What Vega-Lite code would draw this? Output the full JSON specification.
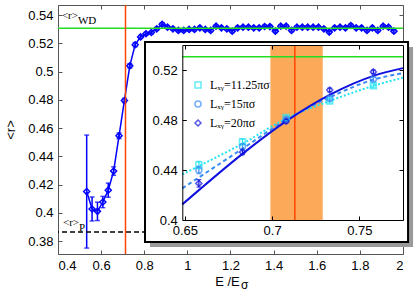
{
  "$schema": "https://vega.github.io/schema/vega-lite/v6.json",
  "width": 345,
  "height": 249,
  "autosize": {"type": "none"},
  "padding": {"left": 58, "top": 5, "right": 12, "bottom": 37},
  "background": "white",
  "config": {
    "view": {"stroke": "#555", "strokeWidth": 1},
    "axis": {"labelFont": "Liberation Sans", "labelFontSize": 13, "labelColor": "black", "titleFont": "Liberation Sans", "titleFontSize": 13, "titleFontWeight": "normal", "titleColor": "black", "grid": false}
  },
  "datasets": {
    "one": [{"k": 1}],
    "main": [
      {"E": 0.533, "r": 0.415, "err": 0.04},
      {"E": 0.558, "r": 0.4027, "err": 0.0085},
      {"E": 0.583, "r": 0.401, "err": 0.0065},
      {"E": 0.608, "r": 0.4076, "err": 0.004},
      {"E": 0.633, "r": 0.416, "err": 0.005},
      {"E": 0.658, "r": 0.4295, "err": 0.003},
      {"E": 0.683, "r": 0.4545, "err": 0.002},
      {"E": 0.708, "r": 0.4795, "err": 0.0015},
      {"E": 0.733, "r": 0.504, "err": 0.0015},
      {"E": 0.758, "r": 0.519, "err": 0.0015},
      {"E": 0.783, "r": 0.5245, "err": 0.001},
      {"E": 0.808, "r": 0.5267, "err": 0.001},
      {"E": 0.833, "r": 0.5276, "err": 0.001},
      {"E": 0.858, "r": 0.5302, "err": 0.001},
      {"E": 0.883, "r": 0.5335, "err": 0.001},
      {"E": 0.908, "r": 0.5314, "err": 0.001},
      {"E": 0.933, "r": 0.5302, "err": 0.001},
      {"E": 0.958, "r": 0.5291, "err": 0.001},
      {"E": 0.983, "r": 0.5291, "err": 0.001},
      {"E": 1.008, "r": 0.5298, "err": 0.001},
      {"E": 1.033, "r": 0.5298, "err": 0.001},
      {"E": 1.058, "r": 0.5309, "err": 0.001},
      {"E": 1.083, "r": 0.5298, "err": 0.001},
      {"E": 1.108, "r": 0.5291, "err": 0.001},
      {"E": 1.133, "r": 0.5321, "err": 0.001},
      {"E": 1.158, "r": 0.5309, "err": 0.001},
      {"E": 1.183, "r": 0.5302, "err": 0.001},
      {"E": 1.208, "r": 0.5286, "err": 0.001},
      {"E": 1.233, "r": 0.5309, "err": 0.001},
      {"E": 1.258, "r": 0.5314, "err": 0.001},
      {"E": 1.283, "r": 0.5314, "err": 0.001},
      {"E": 1.308, "r": 0.5309, "err": 0.001},
      {"E": 1.333, "r": 0.5309, "err": 0.001},
      {"E": 1.358, "r": 0.5319, "err": 0.001},
      {"E": 1.383, "r": 0.5318, "err": 0.001},
      {"E": 1.408, "r": 0.5286, "err": 0.001},
      {"E": 1.433, "r": 0.5321, "err": 0.001},
      {"E": 1.458, "r": 0.5321, "err": 0.001},
      {"E": 1.483, "r": 0.5291, "err": 0.001},
      {"E": 1.508, "r": 0.5314, "err": 0.001},
      {"E": 1.533, "r": 0.5314, "err": 0.001},
      {"E": 1.558, "r": 0.5314, "err": 0.001},
      {"E": 1.583, "r": 0.5314, "err": 0.001},
      {"E": 1.608, "r": 0.5314, "err": 0.001},
      {"E": 1.633, "r": 0.5302, "err": 0.001},
      {"E": 1.658, "r": 0.5279, "err": 0.001},
      {"E": 1.683, "r": 0.5309, "err": 0.001},
      {"E": 1.708, "r": 0.5314, "err": 0.001},
      {"E": 1.733, "r": 0.5309, "err": 0.001},
      {"E": 1.758, "r": 0.5326, "err": 0.001},
      {"E": 1.783, "r": 0.5309, "err": 0.001},
      {"E": 1.808, "r": 0.5309, "err": 0.001},
      {"E": 1.833, "r": 0.5291, "err": 0.001},
      {"E": 1.858, "r": 0.5309, "err": 0.001},
      {"E": 1.883, "r": 0.5291, "err": 0.001},
      {"E": 1.908, "r": 0.5321, "err": 0.001},
      {"E": 1.933, "r": 0.5314, "err": 0.001},
      {"E": 1.958, "r": 0.5286, "err": 0.001}
    ],
    "inset": [
      {"E": 0.658, "r": 0.444, "err": 0.003, "L": "Lₓᵧ=11.25πσ"},
      {"E": 0.683, "r": 0.4627, "err": 0.002, "L": "Lₓᵧ=11.25πσ"},
      {"E": 0.708, "r": 0.482, "err": 0.0015, "L": "Lₓᵧ=11.25πσ"},
      {"E": 0.733, "r": 0.4952, "err": 0.0015, "L": "Lₓᵧ=11.25πσ"},
      {"E": 0.758, "r": 0.5075, "err": 0.0015, "L": "Lₓᵧ=11.25πσ"},
      {"E": 0.658, "r": 0.44, "err": 0.003, "L": "Lₓᵧ=15πσ"},
      {"E": 0.683, "r": 0.4587, "err": 0.002, "L": "Lₓᵧ=15πσ"},
      {"E": 0.708, "r": 0.4805, "err": 0.0015, "L": "Lₓᵧ=15πσ"},
      {"E": 0.733, "r": 0.4973, "err": 0.0015, "L": "Lₓᵧ=15πσ"},
      {"E": 0.758, "r": 0.5126, "err": 0.0015, "L": "Lₓᵧ=15πσ"},
      {"E": 0.658, "r": 0.4293, "err": 0.003, "L": "Lₓᵧ=20πσ"},
      {"E": 0.683, "r": 0.4543, "err": 0.002, "L": "Lₓᵧ=20πσ"},
      {"E": 0.708, "r": 0.479, "err": 0.0015, "L": "Lₓᵧ=20πσ"},
      {"E": 0.733, "r": 0.504, "err": 0.0015, "L": "Lₓᵧ=20πσ"},
      {"E": 0.758, "r": 0.5185, "err": 0.0015, "L": "Lₓᵧ=20πσ"}
    ],
    "fit11": [
      {"E": 0.6485, "r": 0.4365}, {"E": 0.6585, "r": 0.4435}, {"E": 0.6835, "r": 0.4615},
      {"E": 0.7085, "r": 0.4815}, {"E": 0.7335, "r": 0.4955}, {"E": 0.7585, "r": 0.5075}, {"E": 0.775, "r": 0.5139}
    ],
    "fit15": [
      {"E": 0.6485, "r": 0.4253}, {"E": 0.6585, "r": 0.4345}, {"E": 0.6835, "r": 0.4575},
      {"E": 0.7085, "r": 0.4805}, {"E": 0.7335, "r": 0.4985}, {"E": 0.7585, "r": 0.5125}, {"E": 0.775, "r": 0.5175}
    ],
    "fit20": [
      {"E": 0.6485, "r": 0.4125}, {"E": 0.6585, "r": 0.4245}, {"E": 0.6835, "r": 0.4535},
      {"E": 0.7085, "r": 0.4795}, {"E": 0.7335, "r": 0.5005}, {"E": 0.7585, "r": 0.5155}, {"E": 0.775, "r": 0.5215}
    ]
  },
  "resolve": {"scale": {"x": "independent", "y": "independent"}},
  "layer": [
    {
      "data": {"name": "main"},
      "encoding": {
        "x": {"field": "E", "type": "quantitative",
          "scale": {"domain": [0.4, 2.0], "nice": false, "zero": false},
          "axis": {"orient": "bottom", "values": [0.4, 0.6, 0.8, 1, 1.2, 1.4, 1.6, 1.8, 2], "format": "~g", "domain": false, "tickSize": -4, "tickColor": "#555", "labelPadding": 9, "title": "E /E", "titlePadding": 3, "titleX": 169}},
        "y": {"field": "r", "type": "quantitative",
          "scale": {"domain": [0.3708, 0.5471], "nice": false, "zero": false},
          "axis": {"orient": "left", "values": [0.38, 0.4, 0.42, 0.44, 0.46, 0.48, 0.5, 0.52, 0.54], "format": "~g", "domain": false, "tickSize": -4, "tickColor": "#555", "labelPadding": 9, "title": "<r>", "titlePadding": 10}}
      },
      "layer": [
        {"mark": {"type": "errorbar", "color": "#0000ff", "thickness": 1.5, "ticks": {"size": 5}},
         "encoding": {"yError": {"field": "err"}}},
        {"mark": {"type": "line", "color": "#0000ff", "strokeWidth": 1.5,
           "point": {"shape": "diamond", "filled": false, "size": 36, "strokeWidth": 1.5, "color": "#0000ff"}}}
      ]
    },
    {
      "data": {"name": "one"},
      "layer": [
        {"mark": {"type": "rule", "color": "#22dd22", "strokeWidth": 1.5},
         "encoding": {"y": {"datum": 0.5307,
           "scale": {"domain": [0.3708, 0.5471], "nice": false, "zero": false},
           "axis": {"orient": "right", "values": [0.38, 0.4, 0.42, 0.44, 0.46, 0.48, 0.5, 0.52, 0.54], "labels": false, "domain": false, "tickSize": -4, "tickColor": "#555", "title": null}}}},
        {"mark": {"type": "rule", "color": "black", "strokeWidth": 1.5, "strokeDash": [5, 3]},
         "encoding": {"y": {"datum": 0.3863}}},
        {"mark": {"type": "rule", "color": "#ff4500", "strokeWidth": 1.5},
         "encoding": {"x": {"datum": 0.713,
           "scale": {"domain": [0.4, 2.0], "nice": false, "zero": false},
           "axis": {"orient": "top", "values": [0.4, 0.6, 0.8, 1, 1.2, 1.4, 1.6, 1.8, 2], "labels": false, "domain": false, "tickSize": -4, "tickColor": "#555", "title": null}}}},
        {"mark": {"type": "text", "text": "<r>", "font": "Liberation Serif", "fontSize": 11, "align": "left", "baseline": "alphabetic", "color": "black"},
         "encoding": {"x": {"datum": 0.418}, "y": {"datum": 0.5372}}},
        {"mark": {"type": "text", "text": "WD", "font": "Liberation Serif", "fontSize": 11, "align": "left", "baseline": "alphabetic", "dx": 16, "dy": 5, "color": "black"},
         "encoding": {"x": {"datum": 0.418}, "y": {"datum": 0.5372}}},
        {"mark": {"type": "text", "text": "<r>", "font": "Liberation Serif", "fontSize": 11, "align": "left", "baseline": "alphabetic", "color": "black"},
         "encoding": {"x": {"datum": 0.423}, "y": {"datum": 0.3906}}},
        {"mark": {"type": "text", "text": "P", "font": "Liberation Serif", "fontSize": 11, "align": "left", "baseline": "alphabetic", "dx": 16, "dy": 5, "color": "black"},
         "encoding": {"x": {"datum": 0.423}, "y": {"datum": 0.3906}}},
        {"mark": {"type": "text", "text": "σ", "font": "Liberation Sans", "fontSize": 12, "align": "left", "baseline": "middle", "color": "black"},
         "encoding": {"x": {"datum": 1.249}, "y": {"datum": 0.3488}}},
        {"mark": {"type": "rect", "color": "#9a9a9a"},
         "encoding": {"x": {"datum": 0.8267}, "x2": {"datum": 2.0466}, "y": {"datum": 0.5173}, "y2": {"datum": 0.3758}}},
        {"mark": {"type": "rect", "fill": "white", "stroke": "black", "strokeWidth": 2},
         "encoding": {"x": {"datum": 0.8035}, "x2": {"datum": 2.0234}, "y": {"datum": 0.5209}, "y2": {"datum": 0.3793}}}
      ]
    },
    {
      "data": {"name": "one"},
      "layer": [
        {"mark": {"type": "rect", "color": "#fb9a3c", "opacity": 0.85},
         "encoding": {
           "x": {"datum": 0.699,
             "scale": {"domain": [0.6485, 0.775], "range": [124.3, 345], "nice": false, "zero": false},
             "axis": {"orient": "top", "offset": -40, "values": [0.65, 0.7, 0.75], "labels": false, "domain": true, "domainColor": "black", "tickSize": -4, "tickColor": "black", "title": null, "zindex": 1}},
           "x2": {"datum": 0.729},
           "y": {"datum": 0.4,
             "scale": {"domain": [0.4, 0.54], "range": [215, 40], "nice": false, "zero": false},
             "axis": {"orient": "right", "offset": 0, "values": [0.4, 0.44, 0.48, 0.52], "labels": false, "domain": true, "domainColor": "black", "tickSize": -4, "tickColor": "black", "title": null, "zindex": 1}},
           "y2": {"datum": 0.54}}},
        {"mark": {"type": "rule", "color": "#22dd22", "strokeWidth": 1.5},
         "encoding": {"x": {"datum": 0.6485}, "x2": {"datum": 0.775}, "y": {"datum": 0.5307}}},
        {"mark": {"type": "rule", "color": "#ff4500", "strokeWidth": 1.5},
         "encoding": {"x": {"datum": 0.713}, "y": {"datum": 0.4}, "y2": {"datum": 0.54}}}
      ]
    },
    {
      "encoding": {
        "x": {"field": "E", "type": "quantitative",
          "scale": {"domain": [0.6485, 0.775], "range": [124.3, 345], "nice": false, "zero": false},
          "axis": {"orient": "bottom", "offset": -34, "values": [0.65, 0.7, 0.75], "format": "~g", "domain": true, "domainColor": "black", "tickSize": -4, "tickColor": "black", "labelPadding": 8, "title": null, "zindex": 1}},
        "y": {"field": "r", "type": "quantitative",
          "scale": {"domain": [0.4, 0.54], "range": [215, 40], "nice": false, "zero": false},
          "axis": {"orient": "left", "offset": -124.3, "values": [0.4, 0.44, 0.48, 0.52], "format": "~g", "domain": true, "domainColor": "black", "tickSize": -4, "tickColor": "black", "labelPadding": 9, "title": null, "zindex": 1}}
      },
      "layer": [
        {"data": {"name": "fit11"}, "mark": {"type": "line", "color": "#22e5f2", "strokeWidth": 2, "strokeDash": [2, 2], "interpolate": "monotone"}},
        {"data": {"name": "fit15"}, "mark": {"type": "line", "color": "#3a8cf5", "strokeWidth": 2, "strokeDash": [4, 3], "interpolate": "monotone"}},
        {"data": {"name": "fit20"}, "mark": {"type": "line", "color": "#1010e0", "strokeWidth": 2, "interpolate": "monotone"}},
        {"data": {"name": "inset"}, "transform": [{"filter": {"field": "L", "equal": "Lₓᵧ=11.25πσ"}}],
         "mark": {"type": "errorbar", "thickness": 1.2, "color": "#22e5f2", "ticks": {"size": 5}},
         "encoding": {"yError": {"field": "err"}}},
        {"data": {"name": "inset"}, "transform": [{"filter": {"field": "L", "equal": "Lₓᵧ=15πσ"}}],
         "mark": {"type": "errorbar", "thickness": 1.2, "color": "#3a8cf5", "ticks": {"size": 5}},
         "encoding": {"yError": {"field": "err"}}},
        {"data": {"name": "inset"}, "transform": [{"filter": {"field": "L", "equal": "Lₓᵧ=20πσ"}}],
         "mark": {"type": "errorbar", "thickness": 1.2, "color": "#1010e0", "ticks": {"size": 5}},
         "encoding": {"yError": {"field": "err"}}},
        {"data": {"name": "inset"}, "mark": {"type": "point", "filled": false, "size": 36, "strokeWidth": 1.5},
         "encoding": {
           "color": {"field": "L", "type": "nominal",
             "scale": {"domain": ["Lₓᵧ=11.25πσ", "Lₓᵧ=15πσ", "Lₓᵧ=20πσ"], "range": ["#22e5f2", "#3a8cf5", "#1010e0"]},
             "legend": {"orient": "none", "legendX": 134, "legendY": 74, "title": null, "padding": 0, "labelFont": "Liberation Serif", "labelFontSize": 12, "labelColor": "black", "symbolSize": 36, "symbolStrokeWidth": 1.5, "rowPadding": 7, "labelOffset": 6}},
           "shape": {"field": "L", "type": "nominal",
             "scale": {"domain": ["Lₓᵧ=11.25πσ", "Lₓᵧ=15πσ", "Lₓᵧ=20πσ"], "range": ["square", "circle", "diamond"]}}}}
      ]
    }
  ]
}
